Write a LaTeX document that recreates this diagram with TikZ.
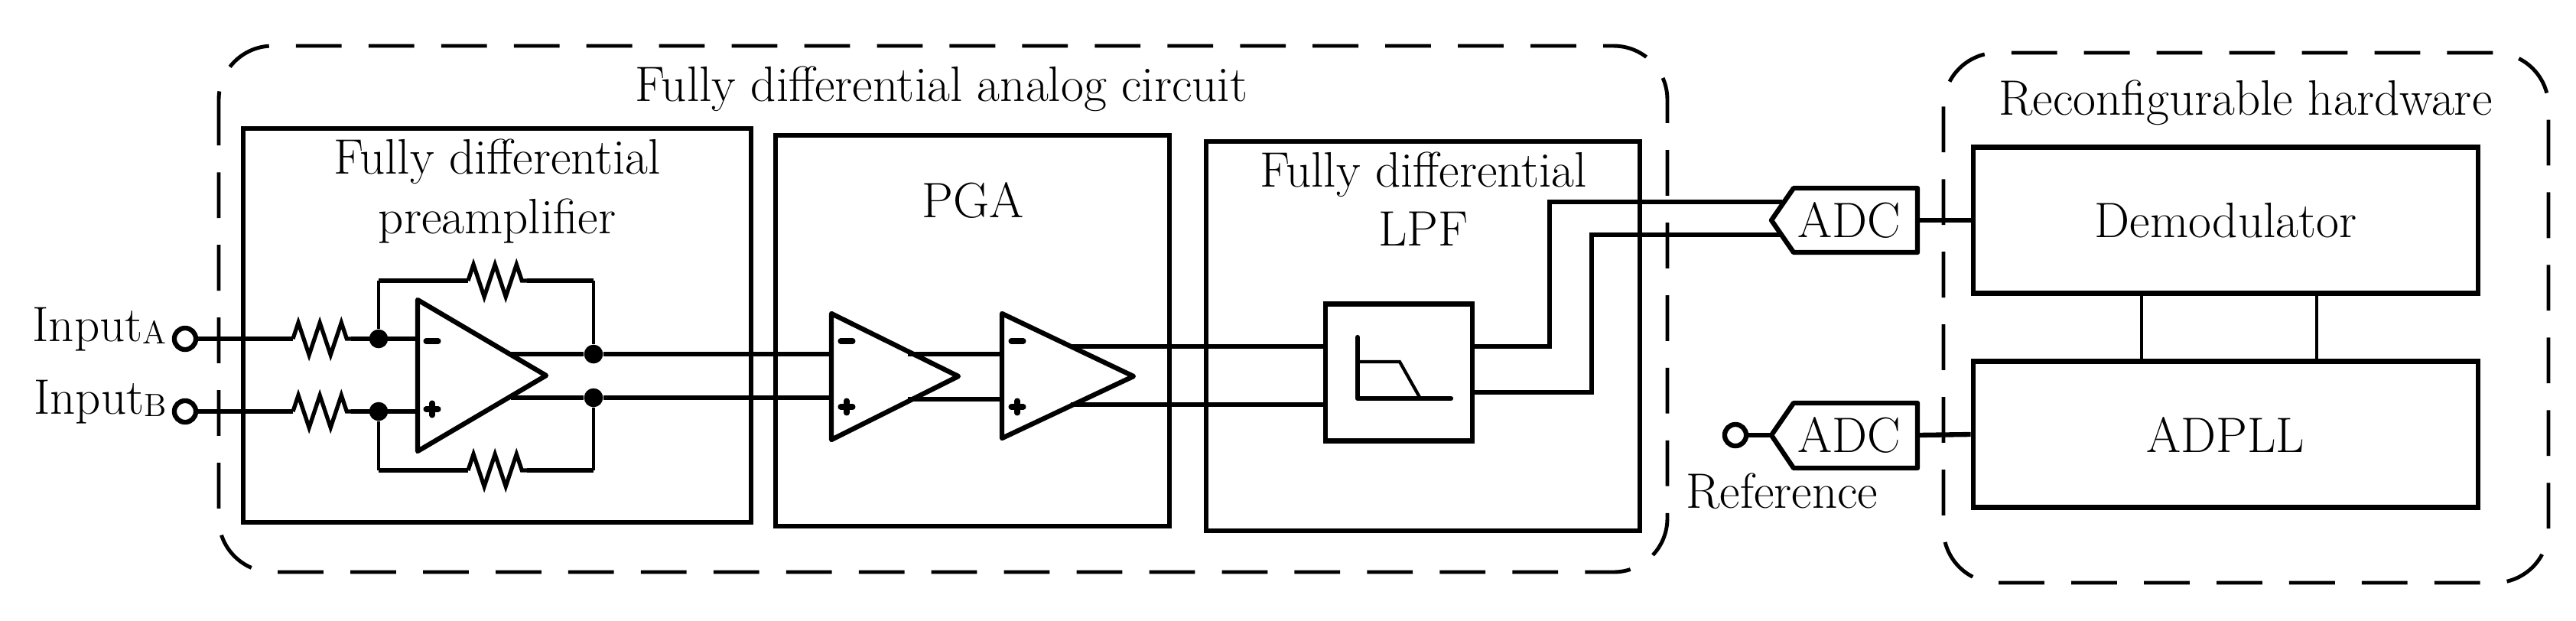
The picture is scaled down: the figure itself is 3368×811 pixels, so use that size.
\documentclass[tikz,border=0pt]{standalone}
\usetikzlibrary{decorations.pathmorphing}

\tikzset{
    grp/.style={draw, line width=1.4pt, dash pattern=on 17pt off 10pt, rounded corners=20pt},
    blk/.style={draw, line width=1.8pt},
    sig/.style={line width=1.8pt},
    wire/.style={line width=1.2pt},
    res/.style={line width=1.5pt, decorate, decoration={zigzag, segment length=8pt, amplitude=6pt}},
    term/.style={draw, circle, line width=1.8pt, fill=white, inner sep=0pt, minimum size=8pt},
    dot/.style={circle, fill=black, inner sep=0pt, minimum size=7pt},
    sgn/.style={line width=2pt, line cap=round},
    lbl/.style={font=\fontsize{18.5}{22}\selectfont, align=center},
}

\begin{document}
\begin{tikzpicture}[x=0.01cm, y=-0.01cm]
    \useasboundingbox (0,0) rectangle (3368,811);

    % groups
    \draw[grp] (286,60) rectangle (2180,748);
    \draw[grp] (2541,69) rectangle (3332,762);
    \node[lbl] (title) at (1231,116) {Fully differential analog circuit};
    \node[lbl] (rtitle) at (2936,134) {Reconfigurable hardware};

    % blocks
    \draw[blk] (318,168) rectangle (982,683);
    \draw[blk] (1014,177) rectangle (1529,688);
    \draw[blk] (1577,185) rectangle (2144,694);
    \node[lbl] (pre) at (650,250) {Fully differential\\preamplifier};
    \node[lbl] (pga) at (1272,262) {PGA};
    \node[lbl] (lpf) at (1861,260) {Fully differential\\LPF};
    \node[blk, lbl, minimum width=6.6cm, minimum height=1.91cm] (demod) at (2910,288) {Demodulator};
    \node[blk, lbl, minimum width=6.6cm, minimum height=1.91cm] (adpll) at (2910,568) {ADPLL};
    \node[blk, minimum width=1.92cm, minimum height=1.79cm] (filt) at (1829,487) {};

    % inputs
    \node[term] (ina) at (242,443) {};
    \node[term] (inb) at (242,538) {};
    \node[lbl, anchor=east] (la) at (230,431) {Input\raisebox{-0.1ex}{\fontsize{12}{13}\selectfont A}};
    \node[lbl, anchor=east] (lb) at (230,526) {Input\raisebox{-0.1ex}{\fontsize{12}{13}\selectfont B}};
    \coordinate (ra1) at (383,443); \coordinate (ra2) at (459,443);
    \coordinate (rb1) at (383,538); \coordinate (rb2) at (459,538);
    \node[dot] (ja) at (495,443) {};
    \node[dot] (jb) at (495,538) {};
    \node[dot] (oa) at (776,463) {};
    \node[dot] (ob) at (776,520) {};
    \draw[sig] (ina) -- (ra1); \draw[res] (ra1) -- (ra2); \draw[sig] (ra2) -- (546,443);
    \draw[sig] (inb) -- (rb1); \draw[res] (rb1) -- (rb2); \draw[sig] (rb2) -- (546,538);

    % preamplifier
    \draw[sig, line join=round] (546,392) -- (714,491) -- (546,590) -- cycle;
    \draw[sgn] (557,446) -- (573,446);
    \draw[sgn] (557,535) -- (573,535) (565,527) -- (565,543);
    \coordinate (fa1) at (612,367); \coordinate (fa2) at (689,367);
    \coordinate (fb1) at (612,615); \coordinate (fb2) at (689,615);
    \draw[wire] (ja) -- (495,367); \draw[sig] (495,367) -- (fa1);
    \draw[res] (fa1) -- (fa2); \draw[sig] (fa2) -- (776,367); \draw[wire] (776,367) -- (oa);
    \draw[wire] (jb) -- (495,615); \draw[sig] (495,615) -- (fb1);
    \draw[res] (fb1) -- (fb2); \draw[sig] (fb2) -- (776,615); \draw[wire] (776,615) -- (ob);
    \draw[sig] (668,463) -- (oa) -- (1087,463);
    \draw[sig] (668,520) -- (ob) -- (1087,520);

    % PGA
    \draw[sig, line join=round] (1087,410) -- (1253,492) -- (1087,575) -- cycle;
    \draw[sig, line join=round] (1310,410) -- (1482,492) -- (1310,573) -- cycle;
    \foreach \x in {1087,1310} {
        \draw[sgn] (\x+12,446) -- (\x+28,446);
        \draw[sgn] (\x+12,532) -- (\x+28,532) (\x+20,524) -- (\x+20,540);
    }
    \draw[sig] (1187,463) -- (1310,463);
    \draw[sig] (1187,522) -- (1310,522);
    \draw[sig] (1400,453) -- (1733,453);
    \draw[sig] (1400,529) -- (1733,529);

    % filter symbol
    \draw[sig, line cap=round, line join=round] (1775,441) -- (1775,521) -- (1897,521);
    \draw[wire] (1775,473) -- (1830,473) -- (1857,521);

    % ADCs
    \draw[blk, line join=round] (2345,246) -- (2507,246) -- (2507,330) -- (2345,330) -- (2316,288) -- cycle;
    \draw[blk, line join=round] (2345,527) -- (2507,527) -- (2507,612) -- (2345,612) -- (2316,569) -- cycle;
    \node[lbl] (adc1) at (2418,288) {ADC};
    \node[lbl] (adc2) at (2418,569) {ADC};
    \draw[sig] (1925,453) -- (2026,453) -- (2026,264) -- (2330,264);
    \draw[sig] (1925,513) -- (2081,513) -- (2081,307) -- (2330,307);
    \draw[sig] (2507,288) -- (demod.west);
    \draw[sig] (2507,569) -- (adpll.west);
    \node[term] (ref) at (2269,569) {};
    \draw[sig] (ref) -- (2316,569);
    \node[lbl] (reftxt) at (2330,642) {Reference};

    % links
    \draw[wire] (2800,384) -- (2800,473);
    \draw[wire] (3029,384) -- (3029,473);
\end{tikzpicture}
\end{document}
